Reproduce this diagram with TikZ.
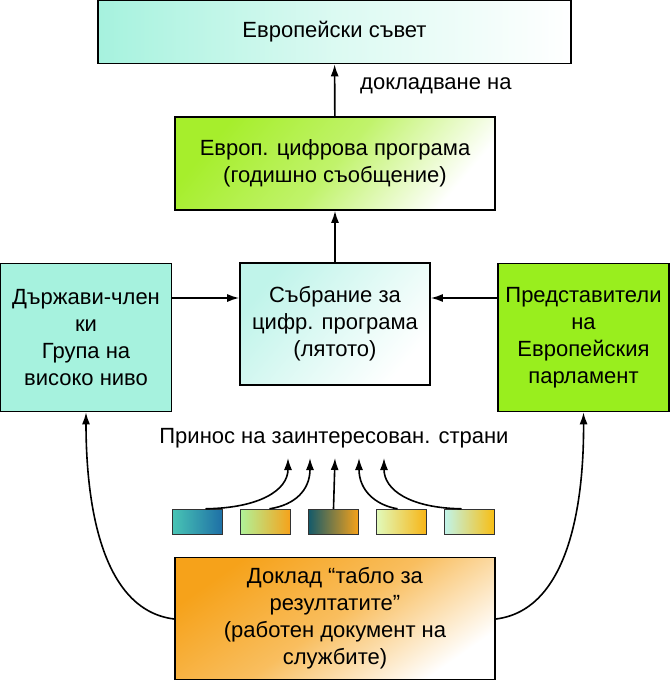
\documentclass[tikz,border=0pt]{standalone}
\usepackage{fontspec}
\setmainfont{Liberation Sans}
\usepackage{tikz}
\usetikzlibrary{positioning,arrows.meta}
\definecolor{aqua}{HTML}{A6F2DE}
\definecolor{lime}{HTML}{99EE1E}
\definecolor{ltlime}{HTML}{A6EE2C}
\definecolor{paleaqua}{HTML}{C0F4EA}
\definecolor{amber}{HTML}{F6A21A}
\definecolor{ocean}{HTML}{1E6FA6}
\definecolor{seafoam}{HTML}{48C4B4}
\definecolor{darkteal}{HTML}{145A6A}

\begin{document}
\begin{tikzpicture}[
  x=1pt, y=-1pt,
  box/.style={draw=black, line width=1.6pt, minimum width=#1, align=center, inner sep=0pt, font=\fontsize{22}{27}\selectfont},
  tile/.style={draw=black!80, line width=1.4pt, minimum width=50pt, minimum height=25pt, inner sep=0pt},
  arrow/.style={-{Latex[length=12pt,width=8pt]}, line width=1.6pt},
  lbl/.style={font=\fontsize{22}{27}\selectfont, inner sep=0pt}
]
\useasboundingbox (0,0) rectangle (670,683);
% boxes
\node[box=473pt, minimum height=63pt, left color=aqua, right color=white, middle color=white!60!aqua] (council) at (334.5,32) {Европейски съвет};
\node[box=320pt, minimum height=93pt, left color=ltlime, right color=white, middle color=ltlime!70!white, shading angle=50] (agenda) at (335,163.5) {Европ. цифрова програма\\(годишно съобщение)};
\node[box=190pt, minimum height=122pt, left color=paleaqua, right color=white, shading angle=50] (assembly) at (335,324) {Събрание за\\цифр. програма\\(лятото)};
\node[box=171pt, minimum height=148pt, fill=aqua] (states) at (86,337.5) {Държави-член\\ки\\Група на\\високо ниво};
\node[box=171pt, minimum height=148pt, fill=lime] (meps) at (583.5,337.5) {Представители\\на\\Европейския\\парламент};
\node[box=320pt, minimum height=122pt, top color=amber, bottom color=white, middle color=amber!70!white, shading angle=35] (report) at (335,618.5) {Доклад “табло за\\резултатите”\\(работен документ на\\службите)};
% labels
\node[lbl, anchor=west] (reporting) at (360,86) {докладване на};
\node[lbl] (input) at (334,438) {Принос на заинтересован. страни};
% stakeholder tiles
\node[tile, left color=seafoam, right color=ocean] (s1) at (197.5,522) {};
\node[tile, left color=paleaqua!60!lime, right color=amber] (s2) at (265.5,522) {};
\node[tile, left color=darkteal, right color=amber] (s3) at (333.5,522) {};
\node[tile, left color=white!70!lime, right color=amber!80!yellow] (s4) at (401.5,522) {};
\node[tile, left color=paleaqua, right color=amber!70!yellow] (s5) at (469.5,522) {};
\foreach \i/\x in {1/288,2/310,3/335,4/359,5/384}
  \coordinate (t\i) at (\x,458);
\coordinate (row) at (0,298);
\coordinate (low) at (0,619);
% connectors
\draw[arrow] (agenda) -- (council);
\draw[arrow] (assembly) -- (agenda);
\draw[arrow] (states.east |- row) -- (assembly.west |- row);
\draw[arrow] (meps.west |- row) -- (assembly.east |- row);
\draw[arrow] ([xshift=8pt]s1.north) .. controls (260,508) and (288,490) .. (t1);
\draw[arrow] ([xshift=4pt]s2.north) .. controls (295,505) and (310,490) .. (t2);
\draw[arrow] (s3.north) -- (t3);
\draw[arrow] ([xshift=-4pt]s4.north) .. controls (375,505) and (359,490) .. (t4);
\draw[arrow] ([xshift=-8pt]s5.north) .. controls (410,508) and (384,490) .. (t5);
\draw[arrow] (report.west |- low) .. controls (100,610) and (86,500) .. (states.south);
\draw[arrow] (report.east |- low) .. controls (570,610) and (584,500) .. (meps.south);
\end{tikzpicture}
\end{document}
